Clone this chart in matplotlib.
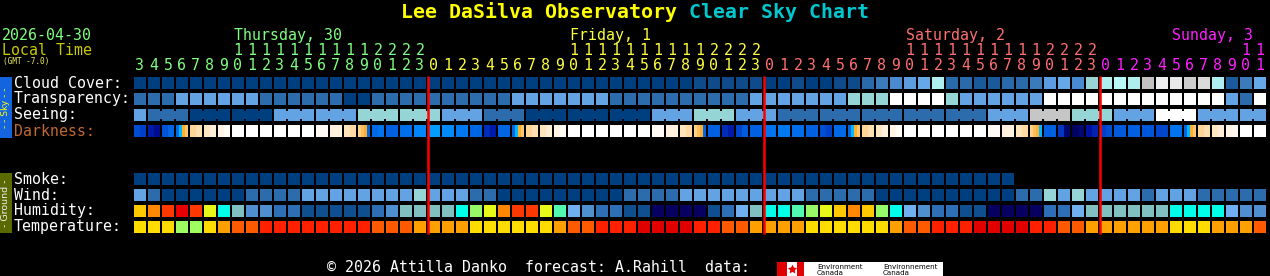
import numpy as np
import matplotlib
matplotlib.use('Agg')
import matplotlib.pyplot as plt
from matplotlib.colors import to_rgb

plt.rcParams['font.family'] = ['DejaVu Sans Mono', 'DejaVu Sans']

# ---- forecast data, one entry per hour from Thursday 03:00 local ----
start_hour = 3
n_hours = 81

# cloud cover level (0 = clear ... 15 = overcast)
cloud = [
    0, 0, 0, 0, 0, 0, 0, 0, 0, 0, 0, 0, 0, 0, 0, 0, 0, 0, 0, 0, 0,
    0, 0, 0, 0, 0, 0, 0, 0, 0, 0, 0, 0, 0, 0, 0, 0, 0, 0, 0, 1, 1, 1, 1, 1,
    0, 0, 1, 0, 0, 1, 1, 3, 4, 5, 6, 7, 9, 3, 3, 2, 2, 3, 3, 4, 6, 7, 5, 8,
    9, 10, 9, 11, 15, 14, 12, 13, 9, 2, 4, 7,
]
# transparency (0 transparent ... 4 poor/too cloudy)
transparency = [
    1, 1, 1, 2, 2, 2, 2, 2, 2, 1, 1, 1, 1, 1, 1, 0, 0, 1, 1, 1, 1,
    1, 1, 1, 1, 1, 1, 2, 2, 2, 2, 2, 2, 2, 1, 1, 1, 1, 1, 1, 1, 1, 1, 1, 2,
    2, 2, 2, 2, 2, 2, 3, 3, 3, 4, 4, 4, 4, 3, 2, 2, 2, 2, 2, 2, 4, 4, 4, 4,
    4, 4, 4, 4, 4, 4, 4, 4, 4, 2, 1, 4,
]
# seeing, forecast in blocks (0 excellent ... 5 too cloudy)
seeing = [2, 1, 0, 0, 2, 2, 3, 3, 2, 1, 0, 0, 0, 2, 3, 2, 1, 1, 1, 1, 1, 2, 4, 3, 2, 5, 2, 2]
seeing_span = [1] + [3] * 26 + [2]
# darkness as limiting magnitude (negative = daylight / twilight), sub-hour samples
darkness = [
    [4.6, 5.0], [5.8, 6.2], [4.4, 3.8], [3.6, 0.5, -0.01, -0.8], [-1.4, -1.8], [-2.2, -2.7], [-3.0, -3.6],
    [-4], [-4], [-4], [-4], [-4], [-4], [-3.5], [-2.8], [-2.0, -1.6], [-1.2, -0.5, -0.01, 3.8],
    [3.6, 3.2], [4.0], [3.4], [2.4],
    [1.5], [2.2], [3.0], [3.8], [5.4, 5.8], [3.8], [3.8, 0.5, -0.01, -0.8], [-1.4, -1.8], [-2.0, -2.6], [-3.0, -3.6],
    [-4], [-4], [-4], [-4], [-4], [-4], [-3.5], [-2.8], [-2.0, -1.6], [-1.2, -0.5, -0.01, 3.8],
    [4.0], [5.4, 5.8], [4.8, 4.2], [4.0],
    [3.2], [3.0], [3.4], [4.0], [4.6, 5.0], [3.6], [3.8, 0.5, -0.01, -0.8], [-1.4, -1.8], [-2.2, -2.8], [-3.0, -3.6],
    [-4], [-4], [-4], [-4], [-4], [-4], [-3.5], [-2.8], [-2.0, -1.6], [-1.2, -0.5, -0.01, 0.5],
    [4.0], [5.2, 6.6], [6.8, 6.6], [6.0, 5.6],
    [5.0, 4.6], [4.2], [4.0], [4.3], [4.8], [3.2], [3.8, 0.5, -0.01, -0.8], [-1.4, -1.8], [-2.2, -2.6], [-3.0, -3.4],
    [-4], [-4],
]
smoke = [
    0, 0, 0, 0, 0, 0, 0, 0, 0, 0, 0, 0, 0, 0, 0, 0, 0, 0, 0, 0, 0,
    0, 0, 0, 0, 0, 0, 0, 0, 0, 0, 0, 0, 0, 0, 0, 0, 0, 0, 0, 0, 0, 0, 0, 0,
    0, 0, 0, 0, 0, 0, 0, 0, 0, 0, 0, 0, 0, 0, 0, 0, 0, 0,
]
wind = [
    2, 1, 0, 0, 0, 0, 0, 0, 1, 1, 1, 1, 2, 2, 2, 2, 2, 2, 2, 2, 3,
    2, 2, 2, 1, 1, 0, 0, 0, 0, 0, 0, 0, 0, 0, 1, 1, 1, 1, 2, 2, 2, 2, 2, 2,
    2, 2, 2, 1, 1, 1, 1, 1, 0, 0, 0, 0, 0, 0, 0, 0, 0, 0, 1, 1, 3, 2, 3, 2,
    2, 2, 2, 1, 2, 2, 2, 1, 1, 1, 1, 1,
]
humidity = [
    10, 11, 12, 13, 12, 9, 6, 5, 3, 3, 2, 2, 1, 1, 1, 1, 1, 2, 3, 5, 5,
    5, 5, 6, 8, 9, 11, 12, 12, 9, 7, 4, 3, 2, 2, 1, 1, 0, 0, 0, 0, 1, 2, 4, 5,
    6, 6, 7, 8, 9, 10, 11, 10, 8, 6, 4, 3, 2, 2, 1, 1, 0, 0, 0, 0, 2, 2, 4, 5,
    5, 5, 5, 5, 5, 6, 6, 6, 6, 4, 3, 3,
]
temperature = [
    1, 1, 1, 0, 0, 1, 2, 3, 3, 4, 4, 4, 4, 4, 4, 4, 4, 3, 3, 3, 2,
    2, 2, 2, 1, 1, 1, 1, 1, 1, 2, 3, 3, 4, 4, 4, 5, 5, 5, 5, 4, 4, 3, 3, 2,
    2, 2, 2, 1, 1, 1, 1, 1, 1, 2, 3, 3, 4, 4, 4, 5, 5, 5, 5, 4, 4, 3, 3, 2,
    2, 2, 2, 2, 2, 1, 1, 1, 2, 2, 2, 3,
]

day_names = ['Thursday, 30', 'Friday, 1', 'Saturday, 2', 'Sunday, 3']
day_label_col = [7, 31, 55, 74]
day_colors = ['#80ff80', '#ffff40', '#ff7070', '#ff20ff']

# ---- palettes ----
cloud_pal = ['#003f7f', '#0f4a8a', '#1a5a9a', '#2a6aaa', '#3b7bbb', '#4a8ad0', '#5c9ce0', '#66a8e8',
             '#99d4d4', '#aeeeee', '#b8f8f8', '#c2c2c2', '#cccccc', '#dadada', '#e8e8e8', '#eeeeee']
sky_pal = ['#003f7f', '#2c6cac', '#63a3e3', '#95d5d5', '#c6c6c6', '#ffffff']
trans_pal = ['#003f7f', '#2c6cac', '#63a3e3', '#95d5d5', '#ffffff']
smoke_pal = ['#003f7f']
wind_pal = ['#003f7f', '#2c6cac', '#63a3e3', '#95d5d5']
hum_pal = ['#080060', '#0f4f8f', '#2e6eb6', '#4f8fcf', '#70b0f0', '#80c0c0', '#00ffe8',
           '#50f8b0', '#98f868', '#e8f818', '#ffc800', '#ff8800', '#ff3800', '#e80000']
temp_pal = ['#a0ff60', '#ffdc00', '#ffa000', '#ff5a00', '#ff2000', '#e00000']
dark_nodes = [-4, -3, -2, -1, -0.01, 0, 1, 2, 3, 4, 5, 6, 7]
dark_cols = ['#ffffff', '#fff4e6', '#ffe4bc', '#ffcc80', '#ffb030', '#00c8ff', '#00a8ff',
             '#0090ff', '#0078f0', '#0060e0', '#0040c8', '#0010a0', '#000050']
dark_rgb = np.array([to_rgb(c) for c in dark_cols])


def dark_color(m):
    return tuple(np.interp(m, dark_nodes, dark_rgb[:, k]) for k in range(3))


X0, PITCH, CELL = 134, 14, 12
hours = [(start_hour + i) % 24 for i in range(n_hours)]
day_of_col = np.cumsum([1 if (i > 0 and h == 0) else 0 for i, h in enumerate(hours)])

fig = plt.figure(figsize=(12.7, 2.76), dpi=100, facecolor='black')
ax = fig.add_axes([0, 0, 1, 1])
ax.set_xlim(0, 1270)
ax.set_ylim(276, 0)
ax.set_facecolor('black')
ax.axis('off')


def draw_row(values, pal, top):
    xs = X0 + PITCH * np.arange(len(values))
    ax.bar(xs, CELL, width=CELL, bottom=top, align='edge',
           color=[pal[v] for v in values], linewidth=0)


draw_row(cloud, cloud_pal, 77)
draw_row(transparency, trans_pal, 93)

# seeing blocks with connectors
col = 0
for val, span in zip(seeing, seeing_span):
    xs = X0 + PITCH * np.arange(col, col + span)
    ax.bar(xs, CELL, width=CELL, bottom=109, align='edge', color=sky_pal[val], linewidth=0)
    if span > 1:
        ax.bar(xs[:-1] + CELL, 8, width=PITCH - CELL, bottom=111, align='edge',
               color=sky_pal[val], linewidth=0)
    col += span

# darkness with sub-hour strips
for i, samples in enumerate(darkness):
    k = len(samples)
    w = CELL / k
    xs = X0 + PITCH * i + w * np.arange(k)
    ax.bar(xs, CELL, width=w, bottom=125, align='edge',
           color=[dark_color(m) for m in samples], linewidth=0)

draw_row(smoke, smoke_pal, 173)
draw_row(wind, wind_pal, 189)
draw_row(humidity, hum_pal, 205)
draw_row(temperature, temp_pal, 221)

# midnight lines
for i, h in enumerate(hours):
    if h == 0:
        ax.vlines(X0 + PITCH * i, 76, 233.5, color='#ff0000', linewidth=1.8)

FS = 10.7
# hour labels
for i, h in enumerate(hours):
    c = day_colors[day_of_col[i]]
    cx = X0 + PITCH * i + CELL / 2
    ax.text(cx, 70, str(h % 10), color=c, fontsize=FS, ha='center', va='baseline')
    if h >= 10:
        ax.text(cx, 55, str(h // 10), color=c, fontsize=FS, ha='center', va='baseline')

for name, c0, c in zip(day_names, day_label_col, day_colors):
    ax.text(X0 + PITCH * c0 + CELL / 2 - 4.5, 40, name, color=c, fontsize=FS, ha='left', va='baseline')

ax.text(2, 40, '2026-04-30', color='#80ff80', fontsize=FS, va='baseline')
ax.text(2, 55, 'Local Time', color='#c8c800', fontsize=FS, va='baseline')
ax.text(3, 64, '(GMT -7.0)', color='#f0f060', fontsize=5.6, va='baseline')

# title
ax.text(401, 18.5, 'Lee DaSilva Observatory', color='#ffff00', fontsize=14.3,
        fontweight='bold', va='baseline')
ax.text(689, 18.5, 'Clear Sky Chart', color='#00c8d0', fontsize=14.3,
        fontweight='bold', va='baseline')

# row labels
labels = [('Cloud Cover:', 87.5, 'white'), ('Transparency:', 103.5, 'white'),
          ('Seeing:', 119.5, 'white'), ('Darkness:', 135.5, '#c06a30'),
          ('Smoke:', 183.5, 'white'), ('Wind:', 199.5, 'white'),
          ('Humidity:', 215.5, 'white'), ('Temperature:', 231.5, 'white')]
for txt, y, c in labels:
    ax.text(14, y, txt, color=c, fontsize=FS, va='baseline')

# side bars
ax.bar(0, 61, width=12, bottom=77, align='edge', color='#1464e0', linewidth=0)
ax.text(6, 107.5, '- - Sky - -', rotation=90, color='#ffff00', fontsize=6.5,
        family='DejaVu Sans', ha='center', va='center')
ax.bar(0, 60, width=12, bottom=173, align='edge', color='#5a6a00', linewidth=0)
ax.text(6, 203, '- Ground -', rotation=90, color='#f0f0f0', fontsize=6.8,
        family='DejaVu Sans', ha='center', va='center')

# footer
ax.text(327, 272, '\u00a9 2026 Attilla Danko  forecast: A.Rahill  data:', color='white',
        fontsize=FS, va='baseline')
ax.bar(777, 14, width=166, bottom=262, align='edge', color='white', linewidth=0)
ax.bar([777, 797], 14, width=[10, 6.5], bottom=262, align='edge', color='#e00000', linewidth=0)
ax.plot(792, 268.5, marker=(5, 1, 0), color='#e00000', markersize=7, markeredgewidth=0)
ax.text(817, 268.8, 'Environment', color='black', fontsize=5.1, family='DejaVu Sans',
        va='baseline')
ax.text(817, 275.3, 'Canada', color='black', fontsize=5.1, family='DejaVu Sans',
        va='baseline')
ax.text(883, 268.8, 'Environnement', color='black', fontsize=5.1, family='DejaVu Sans',
        va='baseline')
ax.text(883, 275.3, 'Canada', color='black', fontsize=5.1, family='DejaVu Sans',
        va='baseline')

fig.savefig('out.png', dpi=100, facecolor='black')
